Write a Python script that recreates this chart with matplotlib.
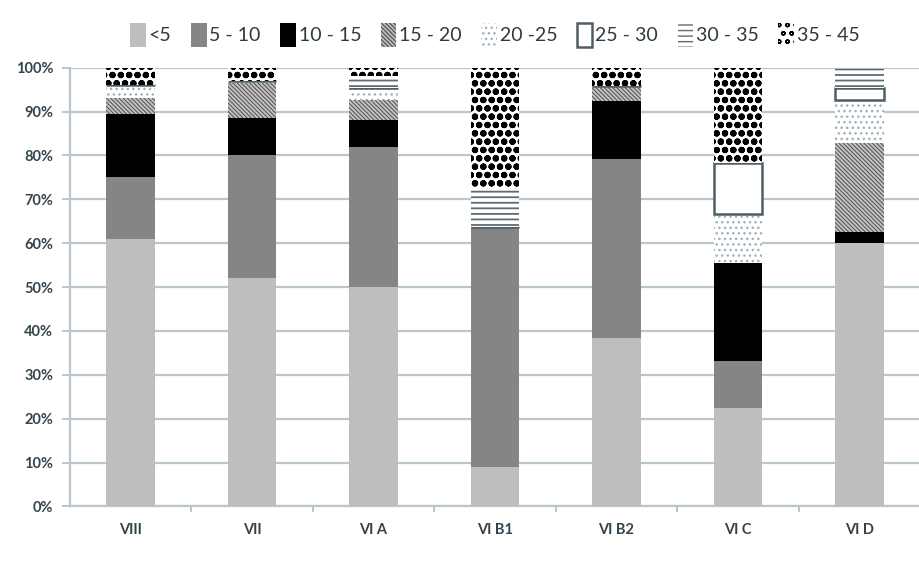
import matplotlib.pyplot as plt
import numpy as np

# data (percent of each zone)
zones = ["VIII", "VII", "VI A", "VI B1", "VI B2", "VI C", "VI D"]
classes = ["<5", "5 - 10", "10 - 15", "15 - 20", "20 -25", "25 - 30", "30 - 35", "35 - 45"]
lt5 = [61, 52, 50, 9, 38.5, 22.4, 60]
c5_10 = [14, 28, 32, 54.7, 40.7, 10.8, 0]
c10_15 = [14.5, 8.5, 6, 0, 13.2, 22.3, 2.5]
c15_20 = [3.5, 8, 4.7, 0, 3.5, 0, 20.3]
c20_25 = [3, 0.5, 2.6, 0, 0, 11.2, 9.9]
c25_30 = [0, 0, 0, 0, 0, 11.5, 2.6]
c30_35 = [0, 0, 2.7, 8.8, 0, 0, 4.7]
c35_45 = [4, 3, 2, 27.5, 4.1, 21.8, 0]

series = [lt5, c5_10, c10_15, c15_20, c20_25, c25_30, c30_35, c35_45]

# fill, hatch, hatch/edge colour, edge width, hatch width
styles = [
    ("#bebebe", None, "#bebebe", 0, 1.0),
    ("#858585", None, "#858585", 0, 1.0),
    ("#000000", None, "#000000", 0, 1.0),
    ("#c4c4c4", "\\\\\\\\\\\\\\\\", "#5a5a5a", 0, 0.8),
    ("#ffffff", "...", "#9fb0ba", 0, 1.0),
    ("#ffffff", None, "#4f5e66", 1.8, 1.0),
    ("#ffffff", "---", "#5f6b72", 0, 1.3),
    ("#ffffff", "oo", "#000000", 0, 2.2),
]

plt.rcParams['font.family'] = ['Lato', 'DejaVu Sans']
fig = plt.figure(figsize=(9.2, 5.62), dpi=100)
ax = fig.add_axes([0.076, 0.0988, 0.924, 0.7807])

x = np.arange(len(zones))
bottom = np.zeros(len(zones))
handles = []
for vals, lab, (fc, h, ec, lw, hlw) in zip(series, classes, styles):
    with plt.rc_context({'hatch.linewidth': hlw}):
        bars = ax.bar(x, vals, 0.40, bottom=bottom, color=fc, edgecolor=ec,
                      linewidth=lw, hatch=h, label=lab, zorder=3)
    for b in bars:
        if hasattr(b, "set_hatch_linewidth"):
            b.set_hatch_linewidth(hlw)
    handles.append(bars)
    bottom += np.array(vals)

ax.set_xlim(-0.5, 6.5)
ax.set_ylim(0, 100)
ax.set_yticks(np.arange(0, 101, 10))
ax.set_yticklabels([f"{v}%" for v in range(0, 101, 10)])
ax.set_xticks(x)
ax.set_xticklabels(zones)
ax.set_xticks(np.arange(0.5, 6.5, 1), minor=True)
ax.yaxis.grid(True, color="#b9c6ce", linewidth=1.6, zorder=0)
ax.set_axisbelow(True)

for s in ["top", "right"]:
    ax.spines[s].set_visible(False)
for s in ["left", "bottom"]:
    ax.spines[s].set_color("#b9c6ce")
    ax.spines[s].set_linewidth(1.6)

ax.tick_params(axis="y", length=6, color="#b9c6ce", width=1.4, labelsize=10.5,
               labelcolor="#35444c", pad=6)
ax.tick_params(axis="x", which="major", length=0, labelsize=10.5,
               labelcolor="#35444c", pad=12)
ax.tick_params(axis="x", which="minor", length=4, color="#b9c6ce", width=1.4)
for t in ax.get_xticklabels() + ax.get_yticklabels():
    t.set_fontweight("bold")

leg = ax.legend(handles=handles, labels=classes, ncol=8, loc="lower center",
                bbox_to_anchor=(0.5, 1.03), frameon=False, fontsize=14,
                handlelength=0.8, handleheight=1.5, handletextpad=0.15,
                columnspacing=1.0, borderaxespad=0)
for t in leg.get_texts():
    t.set_color("#2e3a40")

fig.savefig("out.png", dpi=100)
